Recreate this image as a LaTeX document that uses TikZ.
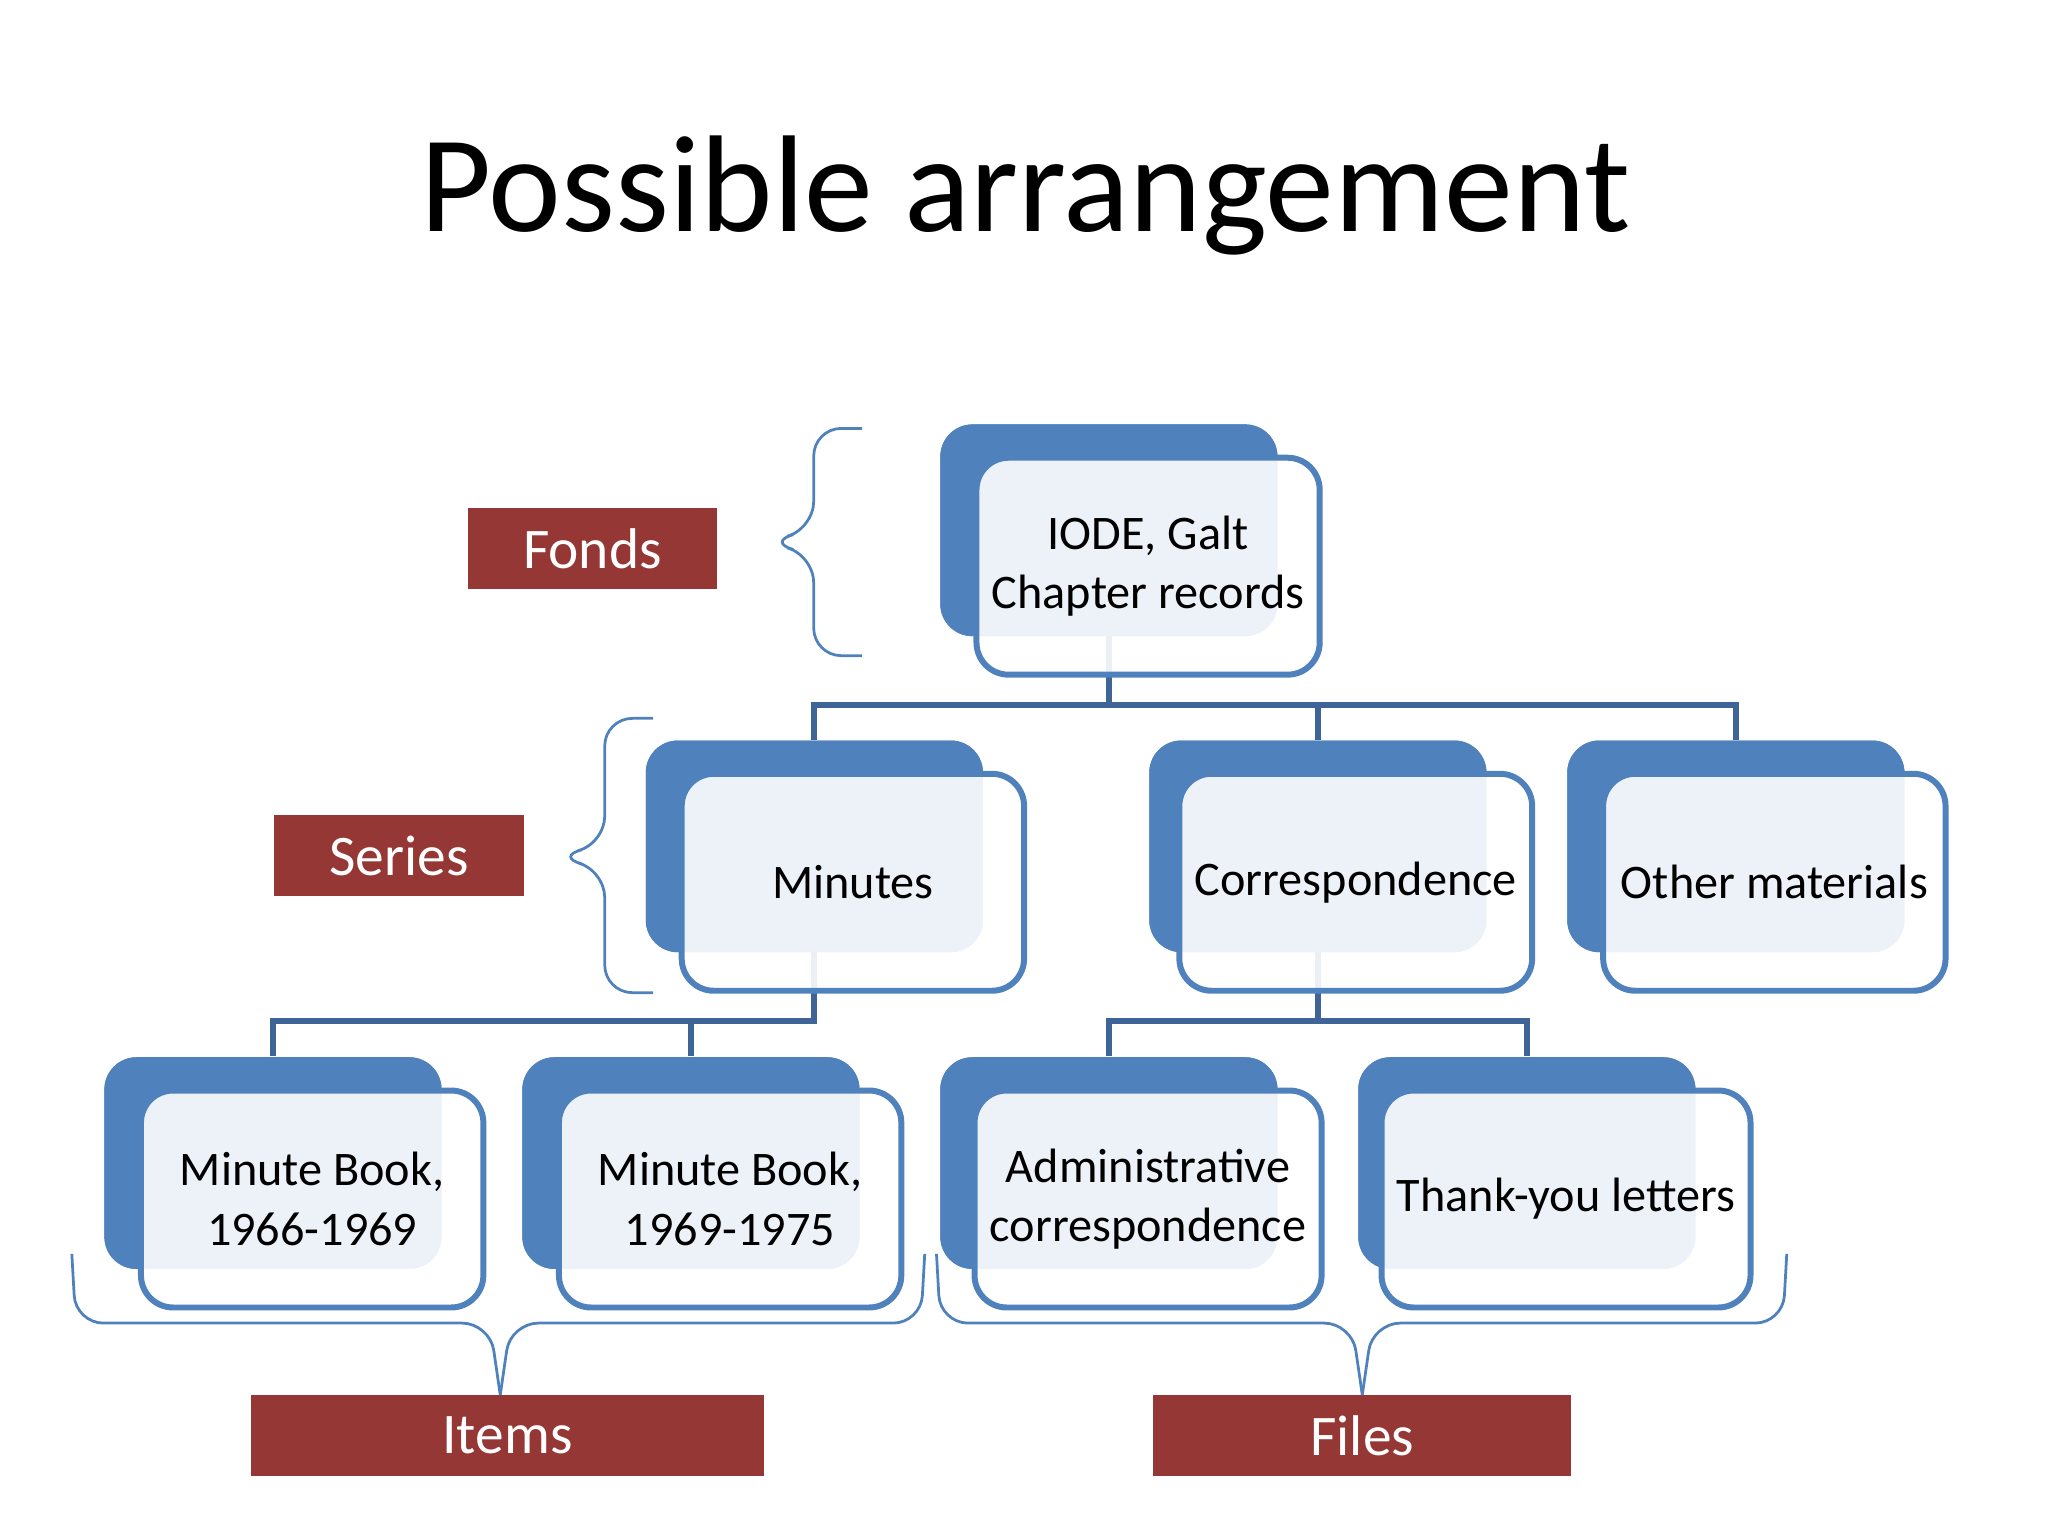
\documentclass[tikz,border=0pt]{standalone}
\usepackage{fontspec}
\setmainfont{Carlito}
\usetikzlibrary{%
  positioning,%
  calc,%
}
\definecolor{boxblue}{HTML}{4F81BD}
\definecolor{linkblue}{HTML}{3F6497}
\definecolor{tagred}{HTML}{953735}
\tikzset{
  back/.style={draw=none,fill=boxblue,rounded corners=7pt,minimum width=2.58cm,minimum height=1.62cm},
  front/.style={draw=boxblue,line width=1.3pt,fill=white,fill opacity=0.9,text opacity=1,rounded corners=7pt,
    minimum width=2.62cm,minimum height=1.66cm,align=center,font=\fontsize{10.5}{13}\selectfont},
  link/.style={draw=linkblue,line width=1.3pt},
  brace/.style={draw=boxblue,line width=0.6pt,rounded corners=6pt},
  tag/.style={fill=tagred,text=white,minimum height=0.62cm,font=\fontsize{12.5}{14}\selectfont},
}
\begin{document}
\begin{tikzpicture}[x=0.01cm,y=-0.01cm]
        \useasboundingbox (0,0) rectangle (1568,1176);
        \node[font=\fontsize{30}{34}\selectfont] (title) at (785,150) {Possible arrangement};

        % back boxes
        \node[back] (fonds)   at (849,406) {};
        \node[back] (minutes) at (623.5,648) {};
        \node[back] (corr)    at (1009,648) {};
        \node[back] (other)   at (1329,648) {};
        \node[back] (mbA)     at (209,890.5) {};
        \node[back] (mbB)     at (529,890.5) {};
        \node[back] (admin)   at (849,890.5) {};
        \node[back] (thanks)  at (1169,890.5) {};

        % connectors
        \foreach \c in {minutes,corr,other}
          \draw[link] (fonds.center) -- (fonds.center |- 0,540) -| (\c.north);
        \foreach \c in {mbA,mbB}
          \draw[link] (minutes.center) -- (minutes.center |- 0,782) -| (\c.north);
        \foreach \c in {admin,thanks}
          \draw[link] (corr.center) -- (corr.center |- 0,782) -| (\c.north);

        % back boxes again, over the links
        \foreach \n/\p in {fonds/{849,406},minutes/{623.5,648},corr/{1009,648},other/{1329,648},
                           mbA/{209,890.5},mbB/{529,890.5},admin/{849,890.5},thanks/{1169,890.5}}
          \node[back] at (\p) {};

        % front boxes
        \node[front] (fondsT)   at (879,433.5) {IODE, Galt\\Chapter records};
        \node[front] (minutesT) at (653,675.5) {Minutes};
        \node[front] (corrT)    at (1038,675.5) {Correspondence};
        \node[front] (otherT)   at (1358.5,675.5) {Other materials};
        \node[front] (mbAT)     at (239,918) {Minute Book,\\1966-1969};
        \node[front] (mbBT)     at (559,918) {Minute Book,\\1969-1975};
        \node[front] (adminT)   at (879,918) {Administrative\\correspondence};
        \node[front] (thanksT)  at (1199,918) {Thank-you letters};

        % labels
        \node[tag,minimum width=1.91cm] (fondsL)  at (453.5,420) {Fonds};
        \node[tag,minimum width=1.91cm] (seriesL) at (305.5,655) {Series};
        \node[tag,minimum width=3.93cm] (itemsL)  at (388.5,1099) {Items};
        \node[tag,minimum width=3.20cm] (filesL)  at (1043,1099) {Files};

        % braces
        \draw[brace] (660,328) -- (623,328) -- (623,405) -- (587,415) -- (623,425) -- (623,502) -- (660,502);
        \draw[brace] (500,550) -- (463,550) -- (463,646) -- (425,656) -- (463,666) -- (463,760) -- (500,760);
        \draw[brace] (55,960) -- (58,1013) -- (375,1013) -- (383,1068);
        \draw[brace] (708,960) -- (705,1013) -- (391,1013) -- (383,1068);
        \draw[brace] (717,960) -- (720,1013) -- (1035,1013) -- (1043,1068);
        \draw[brace] (1368,960) -- (1365,1013) -- (1051,1013) -- (1043,1068);
    \end{tikzpicture}
\end{document}
